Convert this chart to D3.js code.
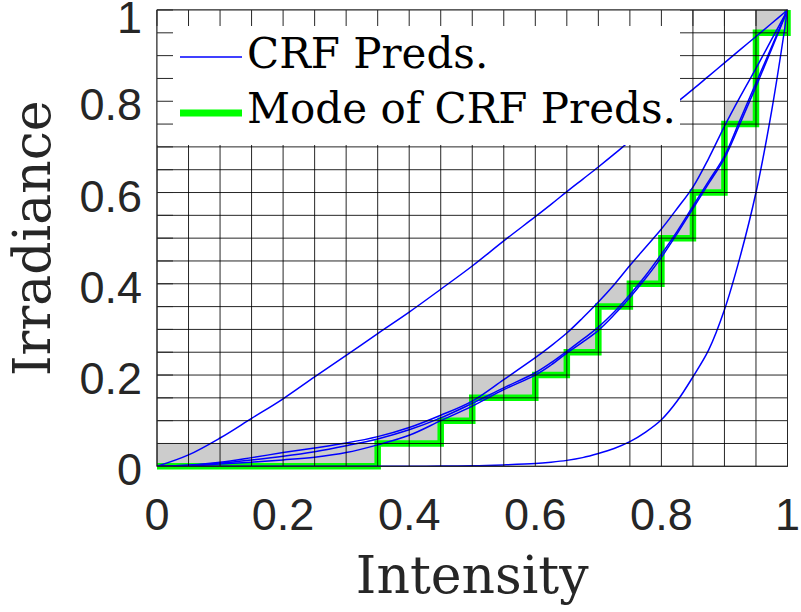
<!DOCTYPE html>
<html>
<head>
<meta charset="utf-8">
<script src="https://cdn.jsdelivr.net/npm/d3@7"></script>
<style>
  html, body { margin: 0; padding: 0; background: #fff; }
  svg { display: block; }
</style>
</head>
<body>
<script>
const crfIntensity = [0, .05, .1, .15, .2, .25, .3, .35, .4, .45, .5, .55, .6, .625, .65, .675, .7, .725, .75, .775, .8, .825, .85, .875, .9, .925, .95, .975, 1];

// five CRF predictions (irradiance)
const crfPredA = [0, .025, .062, .105, .148, .196, .243, .291, .338, .388, .439, .494, .547, .574, .602, .629, .656, .684, .713, .741, .77, .798, .826, .855, .884, .913, .942, .971, 1];
const crfPredB = [0, .003, .009, .019, .03, .04, .051, .065, .085, .112, .143, .19, .238, .264, .292, .325, .36, .398, .44, .48, .52, .565, .612, .675, .745, .81, .872, .936, 1];
const crfPredC = [0, .002, .007, .014, .022, .032, .045, .06, .08, .106, .138, .172, .205, .227, .252, .278, .305, .338, .376, .418, .465, .515, .57, .625, .68, .76, .84, .92, 1];
const crfPredD = [0, .001, .005, .009, .014, .02, .03, .047, .068, .1, .132, .168, .2, .222, .248, .272, .298, .332, .37, .412, .458, .51, .565, .62, .675, .752, .832, .915, 1];
const crfPredE = [0, 0, 0, 0, 0, 0, 0, 0, 0, .0005, .001, .003, .006, .009, .013, .019, .028, .039, .054, .075, .102, .143, .196, .255, .343, .46, .6, .78, 1];

// mode of predictions: one irradiance bin per intensity bin
const modeBinStart = [0, .05, .1, .15, .2, .25, .3, .35, .4, .45, .5, .55, .6, .65, .7, .75, .8, .85, .9, .95];
const modeIrradiance = [0, 0, 0, 0, 0, 0, 0, .05, .05, .1, .15, .15, .2, .25, .35, .4, .5, .6, .75, .95];
const binSize = 0.05;

const xTicks = [0, 0.2, 0.4, 0.6, 0.8, 1];
const yTicks = [0, 0.2, 0.4, 0.6, 0.8, 1];
const xTickLabels = ["0", "0.2", "0.4", "0.6", "0.8", "1"];
const yTickLabels = ["0", "0.2", "0.4", "0.6", "0.8", "1"];
const legendLabels = ["CRF Preds.", "Mode of CRF Preds."];

//-------------------------------------------------------------------------------

var width = 801, height = 612;

var svg = d3.select('body').append('svg')
    .attr('width', width)
    .attr('height', height);

const x = d3.scaleLinear().domain([0, 1]).range([157, 787.5]);
const y = d3.scaleLinear().domain([0, 1]).range([466.3, 10]);

const serif = '"DejaVu Serif", serif';
const sans = '"Liberation Sans", Arial, sans-serif';

// gray cells of the mode histogram
svg.append('g')
    .selectAll('rect')
    .data(modeBinStart)
    .join('rect')
    .attr('x', d => x(d))
    .attr('width', d => x(d + binSize) - x(d))
    .attr('y', (d, i) => y(modeIrradiance[i] + binSize))
    .attr('height', (d, i) => y(modeIrradiance[i]) - y(modeIrradiance[i] + binSize))
    .attr('fill', '#cccccc');

// mode step line
const stepPts = modeBinStart.map((d, i) => [d, modeIrradiance[i]]);
stepPts.push([1, 1]);
svg.append('path')
    .datum(stepPts)
    .attr('fill', 'none')
    .attr('stroke', '#00ff00')
    .attr('stroke-width', 6.5)
    .attr('stroke-linejoin', 'miter')
    .attr('d', d3.line().x(d => x(d[0])).y(d => y(d[1])).curve(d3.curveStepAfter));

// CRF predictions
const crfPreds = [crfPredA, crfPredB, crfPredC, crfPredD, crfPredE];
const crfLine = d3.line()
    .x((d, i) => x(crfIntensity[i]))
    .y(d => y(d))
    .curve(d3.curveCatmullRom.alpha(0.5));

svg.append('g')
    .selectAll('path')
    .data(crfPreds)
    .join('path')
    .attr('fill', 'none')
    .attr('stroke', '#0000ff')
    .attr('stroke-width', 1.5)
    .attr('d', crfLine);

// grid on top (every 0.05)
const gridVals = d3.range(0, 21).map(i => i * binSize);
const gGrid = svg.append('g').attr('stroke', '#000').attr('stroke-opacity', 0.85).attr('stroke-width', 1);
gGrid.selectAll('line.v')
    .data(gridVals)
    .join('line')
    .classed('v', true)
    .attr('x1', d => x(d)).attr('x2', d => x(d))
    .attr('y1', y(0)).attr('y2', y(1));
gGrid.selectAll('line.h')
    .data(gridVals)
    .join('line')
    .classed('h', true)
    .attr('y1', d => y(d)).attr('y2', d => y(d))
    .attr('x1', x(0)).attr('x2', x(1));

// legend box (no border)
const gLegend = svg.append('g');
gLegend.append('rect')
    .attr('x', x(0)).attr('y', y(1))
    .attr('width', 680 - x(0))
    .attr('height', 145 - y(1))
    .attr('fill', '#fff');

gLegend.append('line')
    .attr('x1', 180).attr('x2', 242)
    .attr('y1', 57).attr('y2', 57)
    .attr('stroke', '#0000ff').attr('stroke-width', 1.5);
gLegend.append('line')
    .attr('x1', 180).attr('x2', 242)
    .attr('y1', 113).attr('y2', 113)
    .attr('stroke', '#00ff00').attr('stroke-width', 7);

gLegend.selectAll('text')
    .data(legendLabels)
    .join('text')
    .attr('x', 247)
    .attr('y', (d, i) => i === 0 ? 68 : 123)
    .attr('font-family', serif)
    .attr('font-size', 42)
    .attr('fill', '#000')
    .text(d => d);

// axis box + inward ticks, drawn above the legend
const gAxis = svg.append('g').attr('stroke', '#262626').attr('stroke-width', 1).attr('fill', 'none');
gAxis.append('rect')
    .attr('x', x(0)).attr('y', y(1))
    .attr('width', x(1) - x(0)).attr('height', y(0) - y(1));

const tickLen = 16;
gAxis.selectAll('line.tt')
    .data(gridVals)
    .join('line')
    .classed('tt', true)
    .attr('x1', d => x(d)).attr('x2', d => x(d))
    .attr('y1', y(1)).attr('y2', y(1) + tickLen);
gAxis.selectAll('line.tl')
    .data(gridVals)
    .join('line')
    .classed('tl', true)
    .attr('y1', d => y(d)).attr('y2', d => y(d))
    .attr('x1', x(0)).attr('x2', x(0) + tickLen);

// tick labels
svg.append('g')
    .selectAll('text')
    .data(xTicks)
    .join('text')
    .attr('x', d => x(d))
    .attr('y', 530)
    .attr('text-anchor', 'middle')
    .attr('font-family', sans)
    .attr('font-size', 45)
    .attr('fill', '#262626')
    .text((d, i) => xTickLabels[i]);

svg.append('g')
    .selectAll('text')
    .data(yTicks)
    .join('text')
    .attr('x', 142)
    .attr('y', d => Math.max(y(d) + 19, 33))
    .attr('text-anchor', 'end')
    .attr('font-family', sans)
    .attr('font-size', 45)
    .attr('fill', '#262626')
    .text((d, i) => yTickLabels[i]);

// axis titles
svg.append('text')
    .attr('x', (x(0) + x(1)) / 2)
    .attr('y', 593)
    .attr('text-anchor', 'middle')
    .attr('font-family', serif)
    .attr('font-size', 52)
    .attr('fill', '#262626')
    .text('Intensity');

svg.append('text')
    .attr('transform', 'translate(50,' + ((y(0) + y(1)) / 2) + ') rotate(-90)')
    .attr('text-anchor', 'middle')
    .attr('font-family', serif)
    .attr('font-size', 52)
    .attr('fill', '#262626')
    .text('Irradiance');
</script>
</body>
</html>
